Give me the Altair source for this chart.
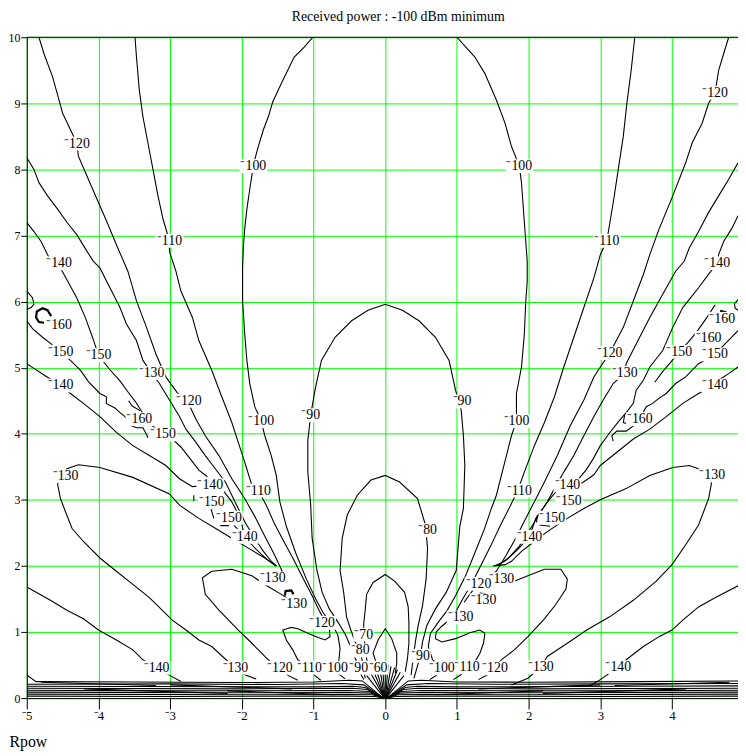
import altair as alt
import pandas as pd

title_text = "Received power : -100 dBm minimum"
x_ticks = [-5, -4, -3, -2, -1, 0, 1, 2, 3, 4]
y_ticks = [0, 1, 2, 3, 4, 5, 6, 7, 8, 9, 10]

# ---------------- contour polylines (data coordinates) ----------------
m120_top_left = [(-4.83,10),(-4.76,9.75),(-4.64,9.40),(-4.55,9.05),(-4.50,8.85),(-4.39,8.60),(-4.30,8.39),(-4.28,8.20),(-4.18,7.95),(-4.02,7.55),(-3.88,7.20),(-3.75,6.86),(-3.59,6.46),(-3.47,6.01),(-3.33,5.61),(-3.20,5.21),(-3.06,4.86),(-2.90,4.62),(-2.74,4.45),(-2.64,4.22),(-2.51,3.97),(-2.32,3.67),(-2.14,3.32),(-1.96,3.02),(-1.82,2.75),(-1.68,2.45),(-1.55,2.18),(-1.45,1.95),(-1.38,1.75)]
m110_left = [(-3.49,10),(-3.47,9.70),(-3.43,9.20),(-3.38,8.80),(-3.31,8.40),(-3.24,8.00),(-3.17,7.60),(-3.10,7.25),(-3.01,6.92),(-3.01,6.76),(-2.92,6.46),(-2.85,6.16),(-2.69,5.76),(-2.60,5.41),(-2.42,4.96),(-2.28,4.56),(-2.14,4.17),(-2.05,3.87),(-1.96,3.57),(-1.86,3.22),(-1.77,3.14),(-1.66,2.92),(-1.55,2.65),(-1.42,2.38),(-1.28,2.10),(-1.15,1.82),(-1.02,1.55),(-0.92,1.32),(-0.84,1.16),(-0.78,1.05),(-0.77,0.93),(-0.84,0.88),(-0.99,0.94),(-1.22,1.05),(-1.31,1.07),(-1.43,1.03),(-1.38,0.88),(-1.29,0.73),(-1.22,0.58),(-1.12,0.50),(-1.06,0.46),(-0.98,0.34),(-0.90,0.27)]
m100_left = [(-1.01,10),(-1.13,9.85),(-1.27,9.70),(-1.36,9.50),(-1.45,9.30),(-1.57,9.02),(-1.63,8.80),(-1.70,8.60),(-1.77,8.35),(-1.82,8.15),(-1.84,8.05),(-1.89,7.70),(-1.93,7.40),(-1.96,7.10),(-1.98,6.81),(-1.99,6.50),(-1.99,6.01),(-1.96,5.51),(-1.93,5.11),(-1.89,4.76),(-1.82,4.41),(-1.73,4.19),(-1.68,3.97),(-1.59,3.67),(-1.52,3.37),(-1.47,2.97),(-1.38,2.60),(-1.25,2.20),(-1.10,1.80),(-0.97,1.50),(-0.86,1.28),(-0.74,1.12),(-0.66,0.95),(-0.63,0.75),(-0.65,0.55),(-0.70,0.46),(-0.64,0.36),(-0.56,0.29)]
m90_dome = [(-0.30,0.28),(-0.35,0.38),(-0.40,0.55),(-0.47,0.75),(-0.56,0.97),(-0.66,1.15),(-0.78,1.35),(-0.88,1.60),(-0.95,1.92),(-1.02,2.42),(-1.04,2.92),(-1.08,3.42),(-1.08,3.90),(-1.04,4.28),(-0.98,4.66),(-0.89,5.11),(-0.70,5.46),(-0.47,5.71),(-0.24,5.87),(0.0,5.96),(0.24,5.87),(0.47,5.71),(0.70,5.46),(0.89,5.11),(0.98,4.66),(1.06,4.35),(1.09,3.97),(1.11,3.52),(1.09,2.87),(1.04,2.60),(0.99,1.93),(0.85,1.60),(0.70,1.35),(0.58,1.10),(0.52,0.85),(0.49,0.64),(0.44,0.45),(0.40,0.30)]
m80_dome = [(-0.28,0.30),(-0.31,0.50),(-0.35,0.72),(-0.42,0.85),(-0.48,1.03),(-0.54,1.23),(-0.58,1.60),(-0.63,1.93),(-0.60,2.42),(-0.53,2.77),(-0.39,3.07),(-0.20,3.30),(0.0,3.37),(0.20,3.27),(0.45,3.02),(0.56,2.62),(0.59,2.27),(0.57,1.80),(0.52,1.40),(0.46,1.10),(0.42,0.85),(0.39,0.60),(0.36,0.35)]
m70_dome = [(-0.22,0.35),(-0.26,0.60),(-0.30,0.96),(-0.30,1.13),(-0.28,1.33),(-0.26,1.57),(-0.17,1.75),(0.0,1.87),(0.13,1.77),(0.27,1.60),(0.32,1.38),(0.33,1.13),(0.33,0.83),(0.31,0.60),(0.28,0.40)]
m60_dome = [(-0.10,0.35),(-0.10,0.46),(-0.14,0.58),(-0.17,0.68),(-0.10,0.88),(0.0,1.05),(0.09,0.90),(0.16,0.68),(0.16,0.53),(0.14,0.38)]
center_stem = [(0.0,0.0),(0.0,0.50)]
m130_arch_left = [(-1.52,2.00),(-1.68,2.12),(-1.91,2.27),(-2.14,2.42),(-2.37,2.57),(-2.60,2.72),(-2.87,2.92),(-3.01,3.09),(-3.52,3.34),(-3.98,3.49),(-4.28,3.53),(-4.44,3.47),(-4.55,3.32),(-4.57,3.24),(-4.53,3.02),(-4.46,2.82),(-4.37,2.57),(-4.21,2.37),(-3.98,2.12),(-3.75,1.92),(-3.52,1.72),(-3.29,1.52),(-2.97,1.18),(-2.78,1.03),(-2.60,0.88),(-2.42,0.78),(-2.19,0.55),(-2.09,0.46),(-1.95,0.35),(-1.80,0.29)]
m140_low_left = [(-5.0,1.68),(-4.67,1.48),(-4.44,1.33),(-4.21,1.20),(-4.00,1.03),(-3.75,0.88),(-3.52,0.73),(-3.38,0.58),(-3.19,0.46),(-3.00,0.34),(-2.85,0.25)]
m140_mid_left = [(-5.0,5.06),(-4.90,4.99),(-4.76,4.89),(-4.53,4.73),(-4.39,4.61),(-4.21,4.46),(-3.98,4.26),(-3.75,4.02),(-3.52,3.82),(-3.29,3.67),(-3.06,3.52),(-2.87,3.32),(-2.69,3.20),(-2.44,3.22),(-2.28,3.17),(-2.14,2.97),(-2.02,2.72),(-1.96,2.44),(-1.80,2.25),(-1.65,2.10),(-1.52,2.00)]
m130_up_left = [(-5.0,8.18),(-4.90,8.00),(-4.83,7.80),(-4.71,7.60),(-4.57,7.40),(-4.44,7.20),(-4.30,7.01),(-4.16,6.76),(-4.07,6.61),(-3.98,6.51),(-3.84,6.21),(-3.70,5.91),(-3.61,5.66),(-3.47,5.41),(-3.38,5.11),(-3.26,4.92),(-3.15,4.76),(-3.01,4.51),(-2.87,4.26),(-2.78,4.07),(-2.64,3.87),(-2.51,3.67),(-2.37,3.47),(-2.23,3.27),(-2.14,3.07),(-2.05,2.87),(-1.95,2.65),(-1.82,2.42),(-1.70,2.22),(-1.58,2.06),(-1.52,2.00)]
m140_up_left = [(-5.0,7.20),(-4.90,7.06),(-4.80,6.91),(-4.71,6.71),(-4.66,6.61),(-4.55,6.55),(-4.45,6.35),(-4.30,6.05),(-4.18,5.75),(-4.08,5.45),(-4.00,5.19),(-3.85,4.98),(-3.70,4.80),(-3.58,4.62),(-3.48,4.48),(-3.40,4.34),(-3.28,4.15),(-3.10,3.99),(-2.97,3.92),(-2.85,3.80),(-2.72,3.62),(-2.60,3.45),(-2.48,3.35)]
m150_left = [(-5.0,5.71),(-4.92,5.59),(-4.78,5.46),(-4.66,5.36),(-4.53,5.24),(-4.39,5.11),(-4.25,4.96),(-4.14,4.79),(-3.98,4.61),(-3.89,4.56),(-3.89,4.46),(-3.77,4.39),(-3.70,4.32),(-3.63,4.26),(-3.54,4.12),(-3.47,4.09),(-3.38,4.09),(-3.33,3.99),(-3.31,3.94)]
m150_bump_left = [(-5.0,6.16),(-4.92,6.06),(-4.90,5.96),(-4.94,5.91),(-5.0,5.88)]
m160_mid_left = [(-3.58,4.50),(-3.53,4.42),(-3.42,4.35)]
m150_bit_left_a = [(-2.67,3.07),(-2.67,2.98)]
m150_bit_left_b = [(-2.43,2.86),(-2.39,2.72)]
m150_bit_left_c = [(-2.30,2.61),(-2.18,2.61)]
m150_bit_left_d = [(-2.11,2.61),(-2.06,2.56)]
m120_loop_left = [(-1.30,1.47),(-1.45,1.57),(-1.68,1.72),(-1.86,1.85),(-2.14,1.95),(-2.42,1.92),(-2.55,1.82),(-2.51,1.57),(-2.32,1.33),(-2.05,1.03),(-1.86,0.83),(-1.68,0.63),(-1.55,0.50),(-1.47,0.46),(-1.35,0.34),(-1.22,0.27)]

m120_top_right = [(4.79,10),(4.72,9.75),(4.65,9.50),(4.60,9.16),(4.51,9.00),(4.42,8.70),(4.28,8.40),(4.19,8.10),(4.01,7.60),(3.82,7.10),(3.69,6.71),(3.60,6.41),(3.46,6.01),(3.32,5.61),(3.13,5.22),(3.00,5.01),(2.91,4.86),(2.77,4.51),(2.58,4.12),(2.40,3.67),(2.22,3.27),(2.08,2.97),(1.95,2.70),(1.82,2.42),(1.68,2.15),(1.55,1.92),(1.42,1.80),(1.30,1.73),(1.20,1.60),(1.10,1.45)]
m110_right = [(3.48,10),(3.43,9.50),(3.37,9.00),(3.32,8.50),(3.25,8.00),(3.18,7.50),(3.09,6.92),(3.00,6.71),(2.91,6.36),(2.77,5.91),(2.63,5.46),(2.49,5.01),(2.36,4.56),(2.22,4.17),(2.08,3.82),(1.94,3.42),(1.85,3.15),(1.74,2.90),(1.60,2.60),(1.47,2.30),(1.33,2.00),(1.20,1.72),(1.08,1.50),(0.98,1.30),(0.88,1.17),(0.78,1.08),(0.71,1.00),(0.70,0.90),(0.79,0.85),(0.98,0.90),(1.18,0.99),(1.32,1.03),(1.39,0.98),(1.37,0.83),(1.32,0.68),(1.25,0.55),(1.14,0.47),(1.05,0.35),(0.95,0.28)]
m100_right = [(1.00,10),(1.25,9.70),(1.39,9.45),(1.55,9.05),(1.67,8.70),(1.76,8.35),(1.87,8.05),(1.90,7.80),(1.92,7.50),(1.94,7.20),(1.96,6.91),(1.98,6.61),(1.98,6.30),(1.96,6.01),(1.94,5.51),(1.90,5.01),(1.83,4.61),(1.83,4.19),(1.76,3.97),(1.69,3.67),(1.62,3.37),(1.55,3.07),(1.48,2.87),(1.38,2.55),(1.25,2.20),(1.12,1.85),(0.98,1.55),(0.86,1.32),(0.74,1.15),(0.63,0.98),(0.60,0.78),(0.66,0.58),(0.79,0.45),(0.72,0.35),(0.62,0.28)]
m130_right = [(4.92,8.10),(4.79,7.85),(4.65,7.60),(4.51,7.35),(4.37,7.06),(4.24,6.81),(4.17,6.61),(4.05,6.46),(3.87,6.11),(3.69,5.76),(3.50,5.36),(3.36,5.06),(3.34,4.92),(3.18,4.76),(3.04,4.51),(2.91,4.26),(2.77,3.97),(2.63,3.67),(2.49,3.42),(2.36,3.17),(2.26,2.97),(2.13,2.75),(2.00,2.52),(1.87,2.30),(1.72,2.12),(1.60,2.03),(1.51,2.00)]
m140_up_right = [(4.92,7.30),(4.83,7.10),(4.72,6.91),(4.65,6.71),(4.63,6.58),(4.50,6.40),(4.37,6.21),(4.15,5.91),(4.01,5.61),(3.87,5.26),(3.69,5.01),(3.60,4.81),(3.50,4.66),(3.46,4.46),(3.36,4.32),(3.25,4.18),(3.12,4.00),(3.00,3.82),(2.90,3.62),(2.80,3.45),(2.70,3.32)]
m140_mid_right = [(4.92,5.01),(4.79,4.91),(4.65,4.81),(4.60,4.73),(4.37,4.61),(4.15,4.46),(3.92,4.26),(3.69,4.07),(3.46,3.92),(3.23,3.72),(3.00,3.52),(2.91,3.38),(2.75,3.26),(2.54,3.22),(2.40,3.15),(2.25,2.95),(2.10,2.72),(2.01,2.44),(1.85,2.25),(1.68,2.08),(1.55,2.01)]
m150_right = [(4.92,5.56),(4.74,5.36),(4.60,5.20),(4.37,5.06),(4.19,4.86),(4.05,4.76),(3.92,4.61),(3.82,4.54),(3.73,4.46),(3.64,4.41),(3.60,4.33)]
m150_up_right = [(4.60,5.95),(4.48,5.75),(4.35,5.55),(4.22,5.38),(4.10,5.24),(3.98,5.08),(3.86,4.93),(3.76,4.78)]
m150_bump_right = [(4.92,6.03),(4.87,5.97),(4.88,5.90),(4.92,5.87)]
m160_low_right = [(3.34,4.29),(3.32,4.17),(3.41,4.14),(3.46,4.12),(3.36,4.04),(3.23,4.04),(3.16,3.97),(3.18,3.89)]
m150_bit_right_a = [(2.12,2.76),(2.11,2.66)]
m150_bit_right_b = [(2.15,2.62),(2.30,2.60)]
m150_bit_right_c = [(2.50,2.93),(2.57,2.90)]
m130_arch_right = [(1.51,2.00),(1.67,2.02),(1.76,2.07),(1.90,2.22),(2.08,2.37),(2.26,2.52),(2.54,2.72),(2.77,2.87),(3.00,3.00),(3.36,3.17),(3.69,3.37),(4.01,3.49),(4.24,3.52),(4.37,3.47),(4.50,3.40),(4.55,3.25),(4.51,3.02),(4.37,2.62),(4.19,2.32),(4.00,2.02),(3.78,1.77),(3.46,1.48),(3.13,1.23),(2.81,1.03),(2.54,0.83),(2.26,0.63),(2.17,0.47),(1.99,0.30),(1.76,0.20)]
m140_low_right = [(4.92,1.70),(4.60,1.52),(4.37,1.38),(4.15,1.18),(4.00,1.03),(3.82,0.93),(3.60,0.78),(3.36,0.58),(3.25,0.47),(3.00,0.28),(2.84,0.18)]
m120_loop_right = [(1.62,1.80),(1.80,1.77),(1.99,1.85),(2.22,1.95),(2.45,1.95),(2.54,1.80),(2.52,1.65),(2.38,1.42),(2.22,1.20),(1.99,0.93),(1.80,0.73),(1.62,0.58),(1.53,0.45),(1.42,0.35),(1.30,0.28)]

# bottom band (dense near-horizontal contours) and radial fan at the origin
band_l1 = [(-5.0,0.35),(-4.87,0.25),(-3.5,0.245),(-2.0,0.235),(-1.0,0.245),(-0.5,0.27),(-0.32,0.26),(-0.06,0.03)]
band_l2 = [(-5.0,0.21),(-3.0,0.215),(-1.5,0.205),(-0.6,0.22),(-0.30,0.20),(-0.05,0.02)]
band_l3 = [(-5.0,0.18),(-3.5,0.175),(-1.0,0.17),(-0.45,0.18),(-0.28,0.16),(-0.045,0.015)]
band_l4 = [(-5.0,0.15),(-2.0,0.14),(-0.45,0.15),(-0.25,0.13),(-0.04,0.012)]
band_l5 = [(-5.0,0.12),(-3.0,0.11),(-0.5,0.115),(-0.22,0.10),(-0.035,0.01)]
band_l6 = [(-5.0,0.09),(-2.5,0.08),(-0.5,0.085),(-0.20,0.075),(-0.03,0.008)]
band_l7 = [(-5.0,0.06),(-2.0,0.05),(-0.5,0.055),(-0.18,0.05),(-0.025,0.005)]
band_l8 = [(-5.0,0.03),(-3.0,0.025),(-0.5,0.03),(-0.15,0.025),(-0.02,0.003)]
band_sl_1 = [(-4.8,0.24),(-3.2,0.19)]
band_sl_2 = [(-3.0,0.20),(-1.3,0.14)]
band_sl_3 = [(-4.2,0.14),(-2.2,0.07)]
band_sl_4 = [(-2.2,0.11),(-0.7,0.05)]
band_r1 = [(0.06,0.03),(0.32,0.26),(0.5,0.27),(1.0,0.245),(2.0,0.24),(3.5,0.25),(4.92,0.26)]
band_r2 = [(0.05,0.02),(0.30,0.20),(0.6,0.22),(1.5,0.21),(3.0,0.215),(4.92,0.22)]
band_r3 = [(0.045,0.015),(0.28,0.16),(0.45,0.18),(1.0,0.17),(3.5,0.18),(4.92,0.185)]
band_r4 = [(0.04,0.012),(0.25,0.13),(0.45,0.15),(2.0,0.14),(4.92,0.15)]
band_r5 = [(0.035,0.01),(0.22,0.10),(0.5,0.115),(3.0,0.11),(4.92,0.12)]
band_r6 = [(0.03,0.008),(0.20,0.075),(0.5,0.085),(2.5,0.08),(4.92,0.09)]
band_r7 = [(0.025,0.005),(0.18,0.05),(0.5,0.055),(2.0,0.05),(4.92,0.06)]
band_r8 = [(0.02,0.003),(0.15,0.025),(0.5,0.03),(3.0,0.025),(4.92,0.03)]
band_sr_1 = [(3.2,0.19),(4.8,0.24)]
band_sr_2 = [(1.3,0.14),(3.0,0.20)]
band_sr_3 = [(2.2,0.07),(4.2,0.14)]
band_sr_4 = [(0.7,0.05),(2.2,0.11)]
rad_l1 = [(-0.01,0.0),(-0.26,0.34)]
rad_l2 = [(-0.01,0.0),(-0.21,0.39)]
rad_l3 = [(-0.01,0.0),(-0.17,0.43)]
rad_l4 = [(-0.01,0.0),(-0.13,0.46)]
rad_l5 = [(-0.01,0.0),(-0.08,0.48)]
rad_l6 = [(-0.005,0.0),(-0.04,0.50)]
rad_r1 = [(0.01,0.0),(0.26,0.34)]
rad_r2 = [(0.01,0.0),(0.21,0.39)]
rad_r3 = [(0.01,0.0),(0.17,0.43)]
rad_r4 = [(0.01,0.0),(0.13,0.46)]
rad_r5 = [(0.01,0.0),(0.08,0.48)]
rad_r6 = [(0.005,0.0),(0.04,0.50)]

# short heavy strokes
m160_hook_left = [(-4.66,5.78),(-4.71,5.87),(-4.78,5.90),(-4.86,5.85),(-4.87,5.76),(-4.83,5.69),(-4.76,5.68)]
m160_hook_right = [(4.67,5.86),(4.75,5.84),(4.79,5.76),(4.75,5.68)]
bracket_left = [(-1.40,1.55),(-1.39,1.62),(-1.31,1.63),(-1.28,1.57)]
bracket_right = [(1.40,1.57),(1.33,1.58),(1.31,1.52),(1.33,1.47)]

thin_lines = {
    "m120_top_left": m120_top_left, "m110_left": m110_left, "m100_left": m100_left,
    "m90_dome": m90_dome, "m80_dome": m80_dome, "m70_dome": m70_dome, "m60_dome": m60_dome,
    "center_stem": center_stem, "m130_arch_left": m130_arch_left, "m140_low_left": m140_low_left,
    "m140_mid_left": m140_mid_left, "m130_up_left": m130_up_left, "m140_up_left": m140_up_left,
    "m150_left": m150_left, "m150_bump_left": m150_bump_left, "m160_mid_left": m160_mid_left,
    "m150_bit_left_a": m150_bit_left_a, "m150_bit_left_b": m150_bit_left_b,
    "m150_bit_left_c": m150_bit_left_c, "m150_bit_left_d": m150_bit_left_d,
    "m120_loop_left": m120_loop_left,
    "m120_top_right": m120_top_right, "m110_right": m110_right, "m100_right": m100_right,
    "m130_right": m130_right, "m140_up_right": m140_up_right, "m140_mid_right": m140_mid_right,
    "m150_right": m150_right, "m150_up_right": m150_up_right, "m150_bump_right": m150_bump_right,
    "m160_low_right": m160_low_right, "m150_bit_right_a": m150_bit_right_a,
    "m150_bit_right_b": m150_bit_right_b, "m150_bit_right_c": m150_bit_right_c,
    "m130_arch_right": m130_arch_right, "m140_low_right": m140_low_right,
    "m120_loop_right": m120_loop_right,
    "band_l1": band_l1, "band_l2": band_l2, "band_l3": band_l3, "band_l4": band_l4,
    "band_l5": band_l5, "band_l6": band_l6, "band_l7": band_l7, "band_l8": band_l8,
    "band_sl_1": band_sl_1, "band_sl_2": band_sl_2, "band_sl_3": band_sl_3, "band_sl_4": band_sl_4,
    "band_r1": band_r1, "band_r2": band_r2, "band_r3": band_r3, "band_r4": band_r4,
    "band_r5": band_r5, "band_r6": band_r6, "band_r7": band_r7, "band_r8": band_r8,
    "band_sr_1": band_sr_1, "band_sr_2": band_sr_2, "band_sr_3": band_sr_3, "band_sr_4": band_sr_4,
    "rad_l1": rad_l1, "rad_l2": rad_l2, "rad_l3": rad_l3, "rad_l4": rad_l4, "rad_l5": rad_l5, "rad_l6": rad_l6,
    "rad_r1": rad_r1, "rad_r2": rad_r2, "rad_r3": rad_r3, "rad_r4": rad_r4, "rad_r5": rad_r5, "rad_r6": rad_r6,
}
thick_lines = {
    "m160_hook_left": m160_hook_left, "m160_hook_right": m160_hook_right,
    "bracket_left": bracket_left, "bracket_right": bracket_right,
}

# ---------------- contour labels ----------------
label_text = ["-120","-100","-110","-140","-160","-150","-150","-130","-140","-120","-160","-150","-100","-90","-130",
              "-140","-110","-150","-150","-140","-130","-130","-120","-70","-80",
              "-140","-130","-120","-110","-100","-90","-60",
              "-120","-100","-110","-140","-160","-160","-150","-120","-150","-130","-140","-90","-100","-160","-130",
              "-80","-110","-140","-150","-150","-140","-130","-120","-130","-130",
              "-90","-100","-110","-120","-130","-140"]
label_x = [-4.30,-1.84,-3.01,-4.55,-4.55,-4.53,-4.00,-3.26,-4.53,-2.74,-3.43,-3.10,-1.73,-1.04,-4.46,
           -2.44,-1.77,-2.42,-2.18,-1.96,-1.57,-1.27,-0.88,-0.30,-0.35,
           -3.19,-2.09,-1.47,-1.06,-0.70,-0.37,-0.10,
           4.60,1.87,3.09,4.63,4.70,4.51,4.60,3.13,4.10,3.34,4.60,1.07,1.83,3.55,4.56,
           0.59,1.87,2.54,2.56,2.33,2.01,1.62,1.30,1.37,1.05,
           0.49,0.79,1.14,1.53,2.17,3.25]
label_y = [8.39,8.05,6.92,6.58,5.64,5.24,5.19,4.92,4.73,4.50,4.22,3.99,4.19,4.28,3.36,
           3.22,3.14,2.97,2.73,2.44,1.81,1.42,1.14,0.96,0.72,
           0.46,0.46,0.46,0.46,0.46,0.46,0.46,
           9.16,8.05,6.92,6.58,5.74,5.45,5.20,5.22,5.24,4.92,4.73,4.49,4.19,4.22,3.37,
           2.54,3.14,3.22,2.98,2.73,2.44,1.80,1.73,1.48,1.22,
           0.64,0.45,0.47,0.45,0.47,0.47]


def build_lines(groups):
    rows = []
    for name, pts in groups.items():
        for i, (x, y) in enumerate(pts):
            rows.append({"line": name, "i": i, "x": x, "y": y})
    return pd.DataFrame(rows)


thin_df = build_lines(thin_lines)
thick_df = build_lines(thick_lines)

lab = pd.DataFrame({"text": label_text, "x": label_x, "y": label_y})
# Mathcad-style raised minus sign
lab["shown"] = lab["text"].str.replace("-", "\u207b", regex=False)
lab["w"] = lab["text"].str.len() * 7.0
lab["size"] = lab["w"] ** 2
lab["shape"] = lab["w"].apply(lambda w: "M-1,-{h}L1,-{h}L1,{h}L-1,{h}Z".format(h=round(14.0 / w, 3)))

SERIF = "Liberation Serif"
xs = alt.Scale(domain=[-5, 4.92], nice=False, zero=False)
ys = alt.Scale(domain=[0, 10], nice=False, zero=False)

x_axis = alt.Axis(values=x_ticks, grid=True, gridColor="#00ff00", gridWidth=1,
                  domainColor="black", tickColor="black", tickSize=11,
                  labelFont=SERIF, labelFontSize=13, labelColor="black", labelFlush=False,
                  labelPadding=1,
                  labelExpr="datum.value < 0 ? '\u207b' + abs(datum.value) : '' + datum.value",
                  title="Rpow", titleFont=SERIF, titleFontSize=16, titleFontWeight="normal",
                  titleColor="black", titleX=-18, titleY=44, titleAlign="left",
                  titleBaseline="middle", titleAnchor="start")
y_axis = alt.Axis(values=y_ticks, grid=True, gridColor="#00ff00", gridWidth=1, format="d",
                  domainColor="black", tickColor="black", tickSize=6,
                  labelFont=SERIF, labelFontSize=12, labelColor="black", labelPadding=1,
                  title=None)

base_x = alt.X("x:Q", scale=xs, axis=x_axis)
base_y = alt.Y("y:Q", scale=ys, axis=y_axis)

thin = alt.Chart(thin_df).mark_line(color="black", strokeWidth=1.1, clip=True).encode(
    x=base_x, y=base_y, detail="line:N", order="i:Q")
thick = alt.Chart(thick_df).mark_line(color="black", strokeWidth=2.2, clip=True).encode(
    x="x:Q", y="y:Q", detail="line:N", order="i:Q")
top_rule = alt.Chart(pd.DataFrame({"y": [10]})).mark_rule(color="black", strokeWidth=1.2).encode(
    y="y:Q")
bg = alt.Chart(lab).mark_point(filled=True, color="white", opacity=1, strokeWidth=0).encode(
    x="x:Q", y="y:Q",
    shape=alt.Shape("shape:N", scale=None),
    size=alt.Size("size:Q", scale=None))
txt = alt.Chart(lab).mark_text(font=SERIF, fontSize=14, color="black", align="center",
                               baseline="middle").encode(x="x:Q", y="y:Q", text="shown:N")

chart = alt.layer(thin, thick, top_rule, bg, txt).properties(
    width=720, height=669,
    title=alt.TitleParams(title_text, font=SERIF, fontSize=14, fontWeight="normal",
                          color="black", dx=16, offset=7),
    autosize=alt.AutoSizeParams(type="none"),
    padding={"left": 19, "top": 25, "right": 0, "bottom": 55},
).configure_view(stroke=None)

chart.save("out.html", embed_options={"renderer": "svg", "actions": False})
